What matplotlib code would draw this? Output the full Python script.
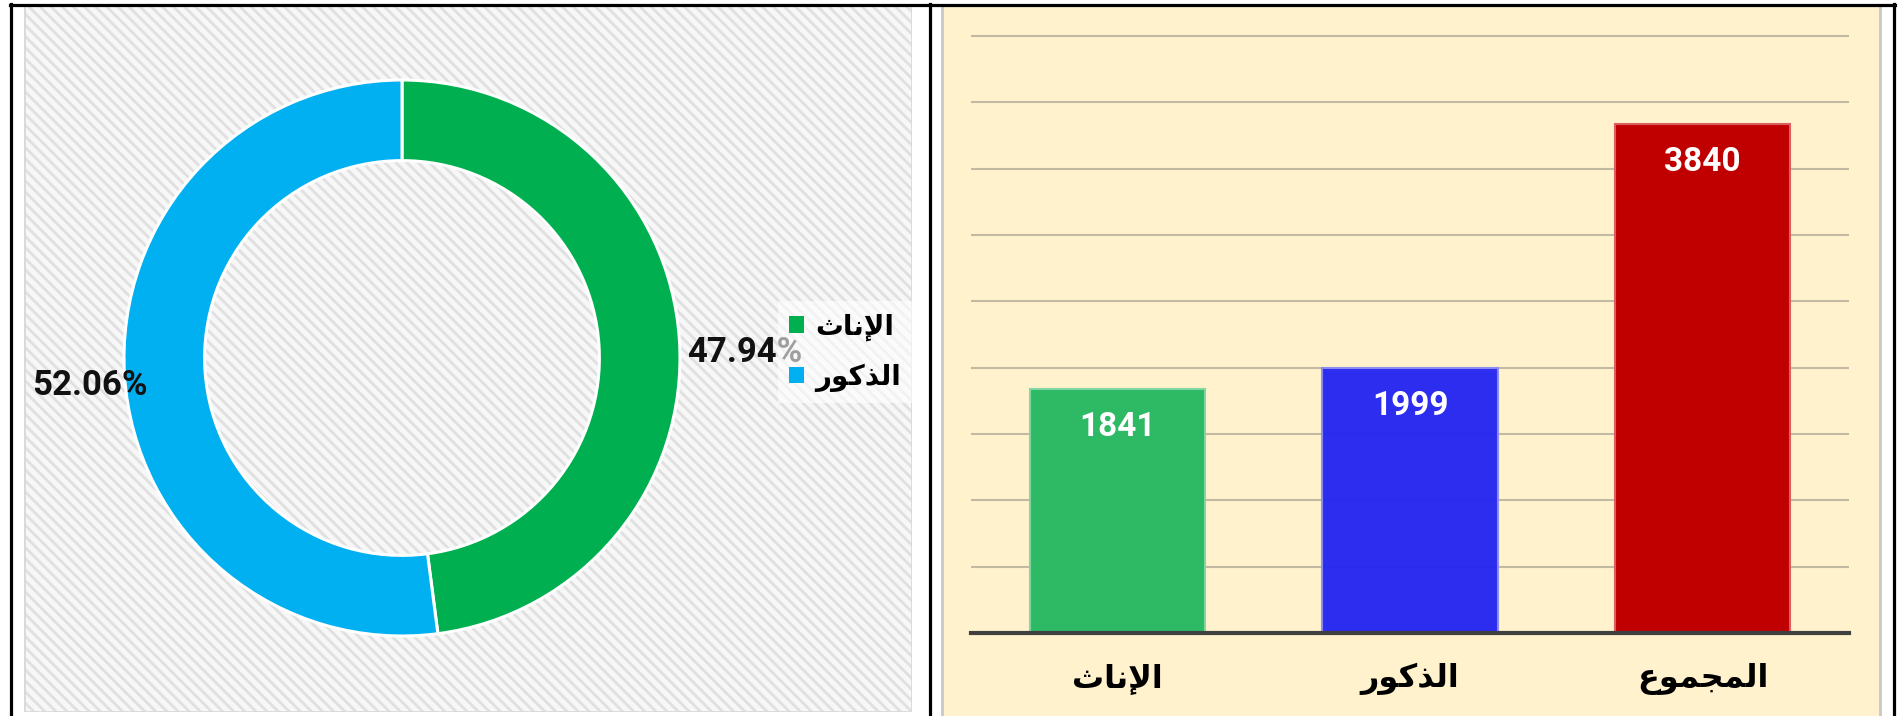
import matplotlib
matplotlib.use("Agg")
import matplotlib.pyplot as plt
from matplotlib.patches import Rectangle
from matplotlib.lines import Line2D

# Arabic text is written in presentation forms, in visual (left-to-right) order,
# because matplotlib does no Arabic shaping itself.
# الإناث / الذكور / المجموع
lbl_female = "\uFE99\uFE8E\uFEE7\uFEF9\uFE8D"
lbl_male = "\uFEAD\uFEEE\uFEDB\uFEAC\uFEDF\uFE8D"
lbl_total = "\uFEC9\uFEEE\uFEE4\uFEA0\uFEE4\uFEDF\uFE8D"

# donut data
pie_labels = [lbl_female, lbl_male]
pie_shares = [47.94, 52.06]
pie_colors = ["#00b050", "#00b0f0"]

# bar data
bar_labels = [lbl_female, lbl_male, lbl_total]
bar_values = [1841, 1999, 3840]
bar_colors = ["#27b862", "#2626f2", "#c00000"]
bar_edges = ["#80d8a4", "#8c8cf4", "#d86060"]

W, H = 1901, 716
fig = plt.figure(figsize=(W / 100, H / 100), dpi=100)
fig.patch.set_facecolor("white")


def box(x0, y0, x1, y1):
    # pixel box (top-left origin) -> figure fraction rect
    return [x0 / W, 1 - y1 / H, (x1 - x0) / W, (y1 - y0) / H]


num_font = dict(family="Roboto", fontweight="bold")
plt.rcParams["hatch.linewidth"] = 2.0

# region left panel
ax_l = fig.add_axes(box(24, 5, 912, 712))
ax_l.set_xlim(0, 1)
ax_l.set_ylim(0, 1)
ax_l.axis("off")
ax_l.add_patch(Rectangle((0, 0), 1, 1, facecolor="#f7f7f7", edgecolor="#e0e0e0",
                         hatch="\\\\\\", linewidth=0))
ax_l.add_patch(Rectangle((0, 0), 1, 1, fill=False, edgecolor="#d9d9d9", linewidth=2))

ax_p = fig.add_axes(box(124, 80, 680, 636))
wedges, _ = ax_p.pie(pie_shares, colors=pie_colors, startangle=90, counterclock=False,
                     wedgeprops=dict(width=0.29, edgecolor="white", linewidth=2.2))
ax_p.set_xlim(-1, 1)
ax_p.set_ylim(-1, 1)
ax_p.set_aspect("equal")

ax_p.text(1.232, 0.02, f"{pie_shares[0]:.2f}%", ha="center", va="center",
          fontsize=25, color="#111111", **num_font)
ax_p.text(-1.122, -0.10, f"{pie_shares[1]:.2f}%", ha="center", va="center",
          fontsize=25, color="#111111", **num_font)

leg = ax_p.legend(wedges, pie_labels, loc="upper left",
                  bbox_to_anchor=(778 / W, 1 - 301 / H), bbox_transform=fig.transFigure,
                  borderaxespad=0, frameon=True, fancybox=False, framealpha=0.6,
                  facecolor="white", edgecolor="none", handlelength=0.55, handleheight=0.55,
                  handletextpad=0.4, labelspacing=0.8, borderpad=0.4,
                  prop=dict(family="DejaVu Sans", weight="bold", size=20))
for h in leg.legend_handles:
    h.set_edgecolor("none")
# endregion

# region right panel
ax_r = fig.add_axes(box(942, 5, 1880, 716))
ax_r.set_facecolor("#fff2cc")
ax_r.set_xticks([])
ax_r.set_yticks([])
for s in ax_r.spines.values():
    s.set_color("#c8c8c8")
    s.set_linewidth(2)
ax_r.spines["bottom"].set_visible(False)
ax_r.spines["top"].set_visible(False)

ymax = 4520
top_px = 633 - ymax * (597 / 4500)
ax_b = fig.add_axes(box(971, top_px, 1849, 633))
ax_b.patch.set_alpha(0)
x = range(len(bar_values))
bars = ax_b.bar(x, bar_values, width=0.6, color=bar_colors, edgecolor=bar_edges,
                linewidth=1.5, alpha=0.97, zorder=3)
bars[2].set_alpha(1.0)
ax_b.set_xlim(-0.5, 2.5)
ax_b.set_ylim(0, ymax)
ax_b.set_yticks(range(0, 4501, 500))
ax_b.grid(axis="y", color="#c2b9a2", linewidth=1.5, zorder=1)
ax_b.set_axisbelow(True)
ax_b.tick_params(length=0, labelleft=False, labelbottom=False)
for side in ["left", "right", "top"]:
    ax_b.spines[side].set_visible(False)
ax_b.spines["bottom"].set_color("#404040")
ax_b.spines["bottom"].set_linewidth(3)
ax_b.spines["bottom"].set_zorder(4)

for xi, v in zip(x, bar_values):
    ax_b.annotate(str(v), (xi, v), xytext=(0, -38), textcoords="offset pixels",
                  ha="center", va="center", color="white", fontsize=24, zorder=5,
                  **num_font)
for xi, lab in zip(x, bar_labels):
    ax_b.text(xi, -46 / 597, lab, transform=ax_b.get_xaxis_transform(),
              ha="center", va="center", fontsize=23, fontweight="bold",
              family="DejaVu Sans", color="black")
# endregion

# table-like black borders
for xs, ys in [((10, 1895), (4.5, 4.5)), ((11, 11), (4, 716)),
               ((929.5, 929.5), (4, 716)), ((1894, 1894), (4, 716))]:
    fig.add_artist(Line2D([v / W for v in xs], [1 - v / H for v in ys],
                          color="black", linewidth=2.3, transform=fig.transFigure))

fig.savefig("out.png", dpi=100)
